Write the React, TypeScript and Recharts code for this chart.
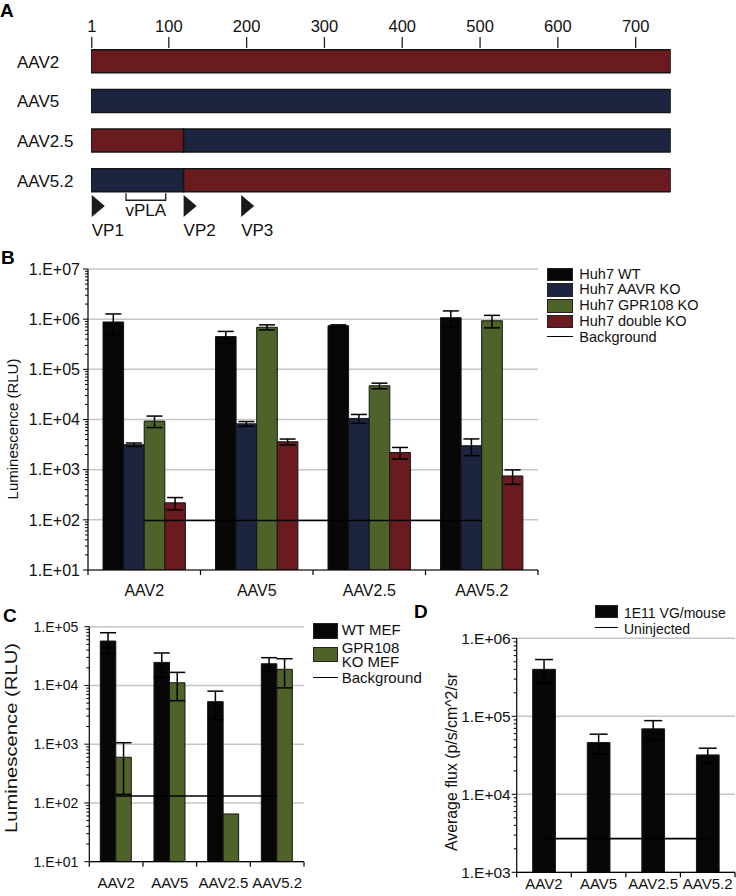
import React from 'react';
import {
  BarChart,
  ComposedChart,
  Bar,
  Line,
  XAxis,
  YAxis,
  CartesianGrid,
  ErrorBar,
  Legend,
  Cell,
  ReferenceDot,
  ReferenceArea,
} from 'recharts';

const FONT = '"Liberation Sans", Arial, Helvetica, sans-serif';
const RED = '#6a1b1f';
const NAVY = '#1c2440';
const OLIVE = '#4f6229';
const BLACK = '#070707';
const EDGE = '#141414';
const GRID = '#c6c6c6';
const INK = '#111';

// A: VP1 map of the capsid chimeras
const capsidRows = ['AAV2', 'AAV5', 'AAV2.5', 'AAV5.2'];
const firstSegmentLength = [745, 745, 119, 119];
const secondSegmentLength = [0, 0, 626, 626];
const firstSegmentSerotype = ['AAV2', 'AAV5', 'AAV2', 'AAV5'];
const secondSegmentSerotype = ['AAV2', 'AAV5', 'AAV5', 'AAV2'];
const residueTicks = [1, 100, 200, 300, 400, 500, 600, 700];
const vpNames = ['VP1', 'VP2', 'VP3'];
const vpStarts = [1, 119, 193];
const vplaRange = [45, 96];

// categories shared by B, C, D
const vectors = ['AAV2', 'AAV5', 'AAV2.5', 'AAV5.2'];

// B: Huh7 cells
const huh7Series = ['Huh7 WT', 'Huh7 AAVR KO', 'Huh7 GPR108 KO', 'Huh7 double KO', 'Background'];
const huh7Wt = [8.8e5, 4.5e5, 7.4e5, 1.07e6];
const huh7WtErr = [3.9e5, 1.2e5, 3e4, 3.9e5];
const huh7AavrKo = [3.15e3, 8.2e3, 1.05e4, 3.0e3];
const huh7AavrKoErr = [250, 900, 2.1e3, 1.1e3];
const huh7Gpr108Ko = [9.3e3, 6.9e5, 4.7e4, 9.3e5];
const huh7Gpr108KoErr = [2.4e3, 8e4, 6e3, 2.6e5];
const huh7DoubleKo = [218, 3.6e3, 2.2e3, 750];
const huh7DoubleKoErr = [60, 480, 570, 240];
const huh7Background = [97, 97, 97, 97];
const huh7Decades = [1e1, 1e2, 1e3, 1e4, 1e5, 1e6, 1e7];

// C: MEF cells
const mefSeries = ['WT MEF', 'GPR108 KO MEF', 'Background'];
const wtMef = [5.7e4, 2.47e4, 5.3e3, 2.34e4];
const wtMefErr = [2.2e4, 1.1e4, 2.7e3, 6.3e3];
const gpr108KoMef = [600, 1.11e4, 65, 1.88e4];
const gpr108KoMefErr = [460, 5.6e3, 0, 9.7e3];
const mefBackground = [131, 131, 131, 131];
const mefDecades = [1e1, 1e2, 1e3, 1e4, 1e5];

// D: mice
const mouseSeries = ['1E11 VG/mouse', 'Uninjected'];
const fluxDose = [4.0e5, 4.6e4, 6.9e4, 3.2e4];
const fluxDoseErr = [1.34e5, 1.3e4, 1.9e4, 7e3];
const fluxUninjected = [2.7e3, 2.7e3, 2.7e3, 2.7e3];
const fluxDecades = [1e3, 1e4, 1e5, 1e6];

const serotypeFill: Record<string, string> = { AAV2: RED, AAV5: NAVY };

const capsidData = capsidRows.map((row, i) => ({
  row,
  first: firstSegmentLength[i],
  second: secondSegmentLength[i],
}));

const huh7Data = vectors.map((vector, i) => ({
  vector,
  wt: huh7Wt[i],
  wtErr: huh7WtErr[i],
  aavr: huh7AavrKo[i],
  aavrErr: huh7AavrKoErr[i],
  gpr: huh7Gpr108Ko[i],
  gprErr: huh7Gpr108KoErr[i],
  dbl: huh7DoubleKo[i],
  dblErr: huh7DoubleKoErr[i],
  bg: huh7Background[i],
}));

const mefData = vectors.map((vector, i) => ({
  vector,
  wt: wtMef[i],
  wtErr: wtMefErr[i],
  gpr: gpr108KoMef[i],
  gprErr: gpr108KoMefErr[i],
  bg: mefBackground[i],
}));

const mouseData = vectors.map((vector, i) => ({
  vector,
  dose: fluxDose[i],
  doseErr: fluxDoseErr[i],
  bg: fluxUninjected[i],
}));

// log axis ticks: decades plus 2..9 minor marks
const withMinor = (decades: number[]) =>
  decades.flatMap((d, i) =>
    i === decades.length - 1 ? [d] : [1, 2, 3, 4, 5, 6, 7, 8, 9].map((k) => k * d)
  );

const expLabel = (v: number) =>
  '1.E+' + String(Math.round(Math.log10(v))).padStart(2, '0');

const logTick = (decades: number[], fontSize: number, gap: number) => (props: any) => {
  const { x, y, payload } = props;
  const major = decades.includes(payload.value);
  return (
    <g>
      <line x1={x - (major ? 5 : 3)} x2={x} y1={y} y2={y} stroke="#000" strokeWidth={1} />
      {major && (
        <text x={x - gap} y={y} dy="0.36em" textAnchor="end" fontSize={fontSize} fill={INK}>
          {expLabel(payload.value)}
        </text>
      )}
    </g>
  );
};

// excel style: tick marks between categories, label in the middle
const categoryTick =
  (bandWidth: number, count: number, fontSize: number, labelDy: number) => (props: any) => {
    const { x, y, payload, index } = props;
    return (
      <g>
        <line x1={x - bandWidth / 2} x2={x - bandWidth / 2} y1={y} y2={y + 5} stroke="#000" strokeWidth={1.2} />
        {index === count - 1 && (
          <line x1={x + bandWidth / 2} x2={x + bandWidth / 2} y1={y} y2={y + 5} stroke="#000" strokeWidth={1.2} />
        )}
        <text x={x} y={y + labelDy} textAnchor="middle" fontSize={fontSize} fill={INK}>
          {payload.value}
        </text>
      </g>
    );
  };

const axisTitle = (text: string, cx: number, cy: number, fontSize: number, length?: number) => () => (
  <text
    x={cx}
    y={cy}
    transform={`rotate(-90 ${cx} ${cy})`}
    textAnchor="middle"
    dy="0.35em"
    fontSize={fontSize}
    fill={INK}
    textLength={length}
    lengthAdjust={length ? 'spacingAndGlyphs' : undefined}
  >
    {text}
  </text>
);

type RowStyle = { top: number; swatchTop: number; swatchH: number };

const LegendBlock = (props: any) => {
  const { payload, order, rows, swatchW, textLeft, fontSize, lineHeight, textWidth } = props;
  const items = order
    .map((name: string) => (payload || []).find((p: any) => p.value === name))
    .filter(Boolean);
  return (
    <div style={{ position: 'relative', fontFamily: FONT }}>
      {items.map((it: any, i: number) => {
        const r: RowStyle = rows[i];
        const isLine = it.type === 'line';
        return (
          <div key={it.value}>
            {isLine ? (
              <div
                style={{
                  position: 'absolute',
                  left: 0,
                  top: r.swatchTop,
                  width: swatchW,
                  borderTop: '1.6px solid #000',
                }}
              />
            ) : (
              <div
                style={{
                  position: 'absolute',
                  left: 0,
                  top: r.swatchTop,
                  width: swatchW,
                  height: r.swatchH,
                  background: it.color,
                  border: '1px solid #222',
                  boxSizing: 'border-box',
                }}
              />
            )}
            <div
              style={{
                position: 'absolute',
                left: textLeft,
                top: r.top,
                width: textWidth,
                fontSize,
                lineHeight: lineHeight + 'px',
                color: INK,
                whiteSpace: 'normal',
              }}
            >
              {it.value}
            </div>
          </div>
        );
      })}
    </div>
  );
};

const ResidueTick = (props: any) => {
  const { x, y, payload } = props;
  return (
    <g>
      <line x1={x} x2={x} y1={y - 4.75} y2={y + 6.25} stroke="#222" strokeWidth={1.3} />
      <text x={x} y={y - 10} textAnchor="middle" fontSize={16.5} fill={INK}>
        {payload.value}
      </text>
    </g>
  );
};

const RowTick = (props: any) => {
  const { x, y, payload } = props;
  return (
    <text x={x - 74} y={y} dy="0.36em" textAnchor="start" fontSize={17} fill={INK}>
      {payload.value}
    </text>
  );
};

const VpMarker = (props: any) => {
  const { cx, cy, label } = props;
  return (
    <g>
      <polygon points={`${cx},${cy + 14.5} ${cx},${cy + 36.5} ${cx + 13},${cy + 25.5}`} fill="#1a1a1a" />
      <text x={cx} y={cy + 55.5} fontSize={17} fill={INK}>
        {label}
      </text>
    </g>
  );
};

const VplaBracket = (props: any) => {
  const { x, y, width } = props;
  return (
    <g>
      <path
        d={`M${x},${y + 32.5} V${y + 39.5} H${x + width} V${y + 32.5}`}
        fill="none"
        stroke="#222"
        strokeWidth={1.3}
      />
      <text x={x + width / 2} y={y + 55.5} textAnchor="middle" fontSize={17} fill={INK}>
        vPLA
      </text>
    </g>
  );
};

const CapsidMap = () => (
  <BarChart
    layout="vertical"
    width={736}
    height={250}
    data={capsidData}
    margin={{ top: 0, right: 65.3, bottom: 49.6, left: 0 }}
    barSize={23}
  >
    <XAxis
      type="number"
      orientation="top"
      domain={[0, 745]}
      allowDataOverflow
      ticks={residueTicks}
      interval={0}
      height={41.75}
      axisLine={false}
      tickLine={false}
      tickSize={0}
      tickMargin={0}
      tick={ResidueTick}
    />
    <YAxis
      type="category"
      dataKey="row"
      width={91}
      interval={0}
      axisLine={false}
      tickLine={false}
      tickSize={0}
      tickMargin={0}
      tick={RowTick}
    />
    <Bar dataKey="first" stackId="vp1" stroke={EDGE} strokeWidth={1.5} isAnimationActive={false}>
      {capsidData.map((d, i) => (
        <Cell key={d.row} fill={serotypeFill[firstSegmentSerotype[i]]} />
      ))}
    </Bar>
    <Bar dataKey="second" stackId="vp1" stroke={EDGE} strokeWidth={1.5} isAnimationActive={false}>
      {capsidData.map((d, i) => (
        <Cell key={d.row} fill={serotypeFill[secondSegmentSerotype[i]]} />
      ))}
    </Bar>
    {vpNames.map((name, i) => (
      <ReferenceDot
        key={name}
        x={vpStarts[i]}
        y={capsidRows[capsidRows.length - 1]}
        ifOverflow="visible"
        shape={(p: any) => <VpMarker {...p} label={name} />}
      />
    ))}
    <ReferenceArea
      x1={vplaRange[0]}
      x2={vplaRange[1]}
      y1={capsidRows[capsidRows.length - 1]}
      y2={capsidRows[capsidRows.length - 1]}
      ifOverflow="visible"
      shape={VplaBracket}
    />
  </BarChart>
);

const axisLineStyle = { stroke: '#000', strokeWidth: 1.2 };

const Huh7Chart = () => (
  <ComposedChart
    width={736}
    height={350}
    data={huh7Data}
    margin={{ top: 19, right: 198, bottom: 0, left: 0 }}
    barGap={0}
  >
    <CartesianGrid vertical={false} horizontalValues={huh7Decades} stroke={GRID} strokeWidth={1.5} />
    <XAxis
      dataKey="vector"
      height={30}
      interval={0}
      tickSize={0}
      tickMargin={0}
      tickLine={false}
      axisLine={axisLineStyle}
      tick={categoryTick(112.5, 4, 16, 25.8)}
    />
    <YAxis
      type="number"
      scale="log"
      domain={[10, 1e7]}
      allowDataOverflow
      ticks={withMinor(huh7Decades)}
      interval={0}
      width={88}
      tickSize={0}
      tickMargin={0}
      tickLine={false}
      axisLine={axisLineStyle}
      tick={logTick(huh7Decades, 16, 8)}
      label={axisTitle('Luminescence (RLU)', 12.5, 179, 15)}
    />
    <Bar dataKey="wt" name={huh7Series[0]} fill={BLACK} stroke={EDGE} strokeWidth={1} barSize={20.6} isAnimationActive={false}>
      <ErrorBar dataKey="wtErr" width={8} stroke="#000" strokeWidth={1.5} />
    </Bar>
    <Bar dataKey="aavr" name={huh7Series[1]} fill={NAVY} stroke={EDGE} strokeWidth={1} barSize={20.6} isAnimationActive={false}>
      <ErrorBar dataKey="aavrErr" width={8} stroke="#000" strokeWidth={1.5} />
    </Bar>
    <Bar dataKey="gpr" name={huh7Series[2]} fill={OLIVE} stroke={EDGE} strokeWidth={1} barSize={20.6} isAnimationActive={false}>
      <ErrorBar dataKey="gprErr" width={8} stroke="#000" strokeWidth={1.5} />
    </Bar>
    <Bar dataKey="dbl" name={huh7Series[3]} fill={RED} stroke={EDGE} strokeWidth={1} barSize={20.6} isAnimationActive={false}>
      <ErrorBar dataKey="dblErr" width={8} stroke="#000" strokeWidth={1.5} />
    </Bar>
    <Line
      dataKey="bg"
      name={huh7Series[4]}
      stroke="#000"
      strokeWidth={1.6}
      dot={false}
      activeDot={false}
      isAnimationActive={false}
    />
    <Legend
      layout="vertical"
      align="center"
      verticalAlign="middle"
      wrapperStyle={{ left: 546.7, top: 16.7, width: 185, height: 80 }}
      content={(p: any) => (
        <LegendBlock
          payload={p.payload}
          order={huh7Series}
          rows={[0, 1, 2, 3, 4].map((i) => ({
            top: i * 15.8,
            swatchTop: i === 4 ? i * 15.8 + 6 : i * 15.8 + 1,
            swatchH: 13.3,
          }))}
          swatchW={26}
          textLeft={32.6}
          fontSize={14.5}
          lineHeight={15.8}
          textWidth={150}
        />
      )}
    />
  </ComposedChart>
);

const MefChart = () => (
  <ComposedChart
    width={440}
    height={296}
    data={mefData}
    margin={{ top: 26.7, right: 136, bottom: 0, left: 0 }}
    barGap={0}
  >
    <CartesianGrid vertical={false} horizontalValues={mefDecades} stroke={GRID} strokeWidth={1.5} />
    <XAxis
      dataKey="vector"
      height={34.3}
      interval={0}
      tickSize={0}
      tickMargin={0}
      tickLine={false}
      axisLine={axisLineStyle}
      tick={categoryTick(53.7, 4, 15, 26.7)}
    />
    <YAxis
      type="number"
      scale="log"
      domain={[10, 1e5]}
      allowDataOverflow
      ticks={withMinor(mefDecades)}
      interval={0}
      width={89.3}
      tickSize={0}
      tickMargin={0}
      tickLine={false}
      axisLine={axisLineStyle}
      tick={logTick(mefDecades, 14, 11)}
      label={axisTitle('Luminescence (RLU)', 11, 138, 16, 190)}
    />
    <Bar dataKey="wt" name={mefSeries[0]} fill={BLACK} stroke={EDGE} strokeWidth={1} barSize={15.5} isAnimationActive={false}>
      <ErrorBar dataKey="wtErr" width={8} stroke="#000" strokeWidth={1.5} />
    </Bar>
    <Bar dataKey="gpr" name={mefSeries[1]} fill={OLIVE} stroke={EDGE} strokeWidth={1} barSize={15.5} isAnimationActive={false}>
      <ErrorBar dataKey="gprErr" width={8} stroke="#000" strokeWidth={1.5} />
    </Bar>
    <Line
      dataKey="bg"
      name={mefSeries[2]}
      stroke="#000"
      strokeWidth={1.6}
      dot={false}
      activeDot={false}
      isAnimationActive={false}
    />
    <Legend
      layout="vertical"
      align="center"
      verticalAlign="middle"
      wrapperStyle={{ left: 312.7, top: 22, width: 125, height: 75 }}
      content={(p: any) => (
        <LegendBlock
          payload={p.payload}
          order={mefSeries}
          rows={[
            { top: 1, swatchTop: 1, swatchH: 16 },
            { top: 19, swatchTop: 25, swatchH: 15 },
            { top: 49, swatchTop: 55, swatchH: 0 },
          ]}
          swatchW={25.6}
          textLeft={29}
          fontSize={15}
          lineHeight={14}
          textWidth={66}
        />
      )}
    />
  </ComposedChart>
);

const MouseChart = () => (
  <ComposedChart
    width={296}
    height={306}
    data={mouseData}
    margin={{ top: 48.3, right: 1, bottom: 0, left: 0 }}
    barGap={0}
  >
    <CartesianGrid vertical={false} horizontalValues={fluxDecades} stroke={GRID} strokeWidth={1.5} />
    <XAxis
      dataKey="vector"
      height={23.7}
      interval={0}
      tickSize={0}
      tickMargin={0}
      tickLine={false}
      axisLine={axisLineStyle}
      tick={categoryTick(54.6, 4, 15, 17)}
    />
    <YAxis
      type="number"
      scale="log"
      domain={[1e3, 1e6]}
      allowDataOverflow
      ticks={withMinor(fluxDecades)}
      interval={0}
      width={76.7}
      tickSize={0}
      tickMargin={0}
      tickLine={false}
      axisLine={axisLineStyle}
      tick={logTick(fluxDecades, 15.5, 6)}
      label={axisTitle('Average flux (p/s/cm^2/sr', 11.5, 172, 16, 178)}
    />
    <Bar dataKey="dose" name={mouseSeries[0]} fill={BLACK} stroke={EDGE} strokeWidth={1} barSize={22.7} isAnimationActive={false}>
      <ErrorBar dataKey="doseErr" width={9} stroke="#000" strokeWidth={1.5} />
    </Bar>
    <Line
      dataKey="bg"
      name={mouseSeries[1]}
      stroke="#000"
      strokeWidth={1.6}
      dot={false}
      activeDot={false}
      isAnimationActive={false}
    />
    <Legend
      layout="vertical"
      align="center"
      verticalAlign="middle"
      wrapperStyle={{ left: 155, top: 14.5, width: 140, height: 34 }}
      content={(p: any) => (
        <LegendBlock
          payload={p.payload}
          order={mouseSeries}
          rows={[
            { top: 0, swatchTop: 0, swatchH: 13 },
            { top: 16.5, swatchTop: 22, swatchH: 0 },
          ]}
          swatchW={22.5}
          textLeft={29}
          fontSize={14}
          lineHeight={16.5}
          textWidth={110}
        />
      )}
    />
  </ComposedChart>
);

const panelLetters = [
  { letter: 'A', x: 0, y: 17 },
  { letter: 'B', x: 1, y: 264 },
  { letter: 'C', x: 3, y: 622 },
  { letter: 'D', x: 414, y: 618 },
];

export default function App() {
  return (
    <div
      style={{
        position: 'absolute',
        left: 0,
        top: 0,
        width: 736,
        height: 896,
        background: '#fff',
        fontFamily: FONT,
        overflow: 'hidden',
      }}
    >
      <div style={{ position: 'absolute', left: 0, top: 0 }}>
        <CapsidMap />
      </div>
      <div style={{ position: 'absolute', left: 0, top: 250 }}>
        <Huh7Chart />
      </div>
      <div style={{ position: 'absolute', left: 0, top: 600 }}>
        <MefChart />
      </div>
      <div style={{ position: 'absolute', left: 440, top: 590 }}>
        <MouseChart />
      </div>
      <svg
        width={736}
        height={896}
        style={{ position: 'absolute', left: 0, top: 0, pointerEvents: 'none' }}
      >
        {panelLetters.map((p) => (
          <text key={p.letter} x={p.x} y={p.y} fontSize={19} fontWeight="bold" fill="#000" fontFamily={FONT}>
            {p.letter}
          </text>
        ))}
      </svg>
    </div>
  );
}
